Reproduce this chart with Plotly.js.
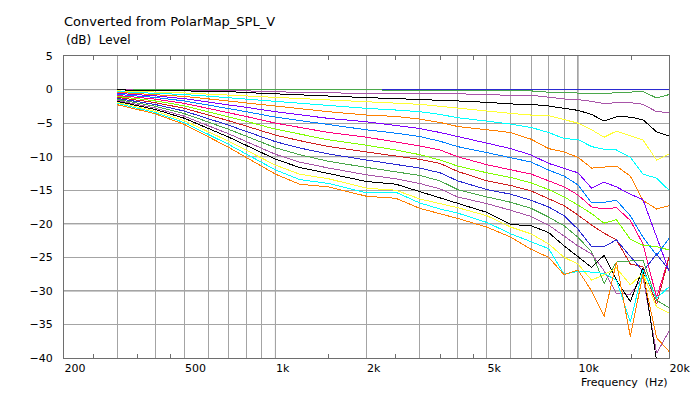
<!DOCTYPE html>
<html><head><meta charset="utf-8">
<script src="https://cdn.plot.ly/plotly-3.0.1.min.js"></script>
<style>html,body{margin:0;padding:0;background:#fff}#chart{width:692px;height:393px}
.scatterlayer path.js-line{shape-rendering:crispEdges}</style>
</head><body><div id="chart"></div>
<script>
// Frequencies (Hz)
const freqHz = [300,400,500,600,700,800,1000,1200,1500,2000,2500,3000,3500,4000,5000,6000,7000,8000,9000,10000,11100,12200,13400,14900,16400,18200,20000];

// Level curves (dB), top (on-axis) to bottom
const L00 = [0,0,0,0,0,0,0,0,0,0,0,0,0,0,0,0,0,0,0,0,0,0,0,0,0,0,0];
const L01 = [0,0,0,0,0,0,0,0,0,-0.05,-0.1,-0.1,-0.1,-0.1,-0.1,-0.1,-0.2,-0.4,-0.45,-0.55,-0.6,-0.65,-0.45,-0.4,-0.3,-1.25,-0.75];
const L02 = [-0.05,-0.07,-0.1,-0.12,-0.15,-0.2,-0.3,-0.45,-0.5,-0.52,-0.55,-0.6,-0.62,-0.65,-0.7,-0.9,-0.85,-1.15,-1.4,-1.5,-1.75,-2.1,-1.95,-1.95,-2.2,-3.3,-3.4];
const L03 = [-0.05,-0.1,-0.15,-0.2,-0.3,-0.45,-0.65,-0.8,-0.95,-1.2,-1.35,-1.45,-1.55,-1.7,-1.9,-2.15,-2.2,-2.45,-2.8,-3.1,-3.7,-4.7,-4.05,-4.1,-4.5,-6.3,-6.9];
const L04 = [-0.2,-0.35,-0.5,-0.68,-0.83,-0.98,-1.2,-1.37,-1.57,-1.8,-2.0,-2.2,-2.5,-2.8,-3.2,-3.55,-3.8,-3.9,-4.5,-5.0,-6.0,-7.1,-6.2,-6.9,-7.5,-10.5,-9.6];
const L05 = [-0.32,-0.51,-0.74,-0.99,-1.22,-1.43,-1.79,-2.05,-2.45,-2.8,-3.05,-3.3,-3.7,-4.2,-4.7,-5.15,-5.65,-6.4,-7.3,-7.45,-8.5,-8.9,-9.0,-10.1,-12.6,-13.2,-15.0];
const L06 = [-0.42,-0.72,-1.03,-1.39,-1.71,-2.01,-2.51,-2.8,-3.3,-3.8,-4.0,-4.4,-4.9,-5.5,-5.95,-6.4,-7.4,-8.8,-9.3,-10.1,-11.7,-11.6,-11.4,-12.9,-16.5,-17.8,-17.3];
const L07 = [-0.57,-0.94,-1.36,-1.83,-2.25,-2.65,-3.3,-3.7,-4.3,-4.8,-5.3,-5.8,-6.4,-7.0,-8.0,-8.8,-9.75,-11.0,-11.75,-12.4,-14.7,-13.8,-14.5,-15.6,-16.4,-22.0,-27.0];
const L08 = [-0.72,-1.17,-1.7,-2.28,-2.8,-3.29,-4.11,-4.6,-5.3,-6.0,-6.5,-7.0,-7.7,-8.5,-9.4,-10.1,-10.8,-12.0,-12.9,-14.2,-16.9,-16.8,-16.5,-18.8,-22.0,-24.7,-22.2];
const L09 = [-0.87,-1.43,-2.06,-2.78,-3.41,-4.01,-5.0,-5.6,-6.4,-7.1,-7.8,-8.4,-9.0,-10.0,-11.2,-12.0,-12.6,-13.6,-14.5,-15.7,-17.5,-17.8,-17.6,-19.5,-23.0,-31.0,-25.0];
const L10 = [-1.02,-1.68,-2.43,-3.28,-4.02,-4.73,-5.9,-6.6,-7.5,-8.3,-9.0,-9.7,-10.5,-11.4,-12.4,-13.1,-13.9,-14.9,-16.0,-17.2,-18.5,-19.9,-19.4,-22.3,-23.2,-23.4,-23.9];
const L11 = [-1.17,-1.94,-2.8,-3.77,-4.64,-5.44,-6.79,-7.6,-8.5,-9.3,-9.9,-10.4,-11.0,-12.2,-13.6,-14.3,-15.1,-16.3,-17.3,-18.7,-20.2,-21.4,-22.4,-26.0,-26.4,-32.0,-25.0];
const L12 = [-1.32,-2.22,-3.21,-4.32,-5.31,-6.23,-7.77,-8.7,-9.6,-10.5,-11.1,-11.7,-12.4,-13.6,-14.9,-15.6,-16.5,-17.5,-18.8,-20.8,-23.4,-23.4,-22.4,-24.9,-27.1,-24.5,-26.9];
const L13 = [-1.47,-2.48,-3.58,-4.82,-5.92,-6.95,-8.67,-9.7,-10.7,-11.6,-12.2,-12.8,-13.6,-14.9,-16.0,-16.8,-17.7,-19.0,-20.3,-22.0,-24.2,-28.9,-25.7,-25.6,-25.4,-31.4,-32.5];
const L14 = [-1.62,-2.76,-3.98,-5.36,-6.59,-7.74,-9.65,-10.8,-11.7,-12.7,-13.3,-14.0,-14.8,-16.0,-17.0,-18.0,-18.9,-20.2,-21.8,-23.3,-24.5,-27.0,-30.4,-30.5,-27.9,-39.3,-36.0];
const L15 = [-1.76,-2.96,-4.28,-5.76,-7.08,-8.31,-10.37,-11.6,-12.5,-13.7,-14.1,-15.2,-16.2,-16.9,-18.3,-20.1,-20.3,-21.3,-23.3,-24.9,-26.5,-24.7,-28.4,-31.6,-26.6,-40.5,-45.0];
const L16 = [-1.91,-3.22,-4.65,-6.26,-7.69,-9.03,-11.26,-12.6,-13.3,-14.7,-15.0,-16.3,-17.0,-17.6,-18.8,-20.5,-21.5,-23.0,-25.0,-26.0,-28.4,-27.6,-26.6,-29.1,-27.4,-32.4,-33.3];
const L17 = [-2.06,-3.42,-4.94,-6.65,-8.17,-9.6,-11.97,-13.4,-14.0,-15.4,-15.3,-16.9,-17.8,-18.4,-19.8,-21.5,-22.7,-23.7,-27.5,-27.1,-27.2,-27.4,-28.4,-34.6,-26.9,-31.1,-29.4];
const L18 = [-2.26,-3.6,-5.2,-7.0,-8.6,-10.1,-12.6,-14.1,-14.5,-15.9,-16.2,-17.7,-18.5,-19.2,-20.5,-22.0,-23.8,-25.0,-27.6,-26.9,-30.0,-33.8,-25.7,-36.8,-27.5,-37.0,-39.0];

const curves = [L00,L01,L02,L03,L04,L05,L06,L07,L08,L09,L10,L11,L12,L13,L14,L15,L16,L17,L18];
const curveColors = ['#2a2ad2','#4aa84a','#a855a8','#000000','#ffff33','#00ffff','#ff8000','#8000ff','#0080ff','#ff0080','#80ff00','#d02020',
                     '#2a2ad2','#4aa84a','#a855a8','#000000','#ffff33','#00ffff','#ff8000'];

// Axis ticks
const xTickVals = [200,300,400,500,600,700,800,900,1000,2000,3000,4000,5000,6000,7000,8000,9000,10000,20000];
const xTickText = ['200','','','500','','','','','1k','2k','','','5k','','','','','10k','20k'];
const xMinorTicks = [250,350,450,1500,2500,3500,4500,15000];
const yTickVals = [5,0,-5,-10,-15,-20,-25,-30,-35,-40];
const darkGridX = [1000,10000];
const darkGridY = [0,-10,-20,-30];

const traces = curves.map((c,i)=>({
  type:'scatter', mode:'lines', x:freqHz, y:c,
  line:{color:curveColors[i], width:1},
  hoverinfo:'skip', showlegend:false
}));

const gridDark = '#6e6e6e', gridLight = '#a4a4a4';
const shapes = [];
darkGridX.forEach(v=>shapes.push({type:'line', xref:'x', yref:'paper', x0:v, x1:v, y0:0, y1:1, layer:'between', line:{color:gridDark, width:1}}));
darkGridY.forEach(v=>shapes.push({type:'line', xref:'paper', yref:'y', x0:0, x1:1, y0:v, y1:v, layer:'between', line:{color:gridDark, width:1}}));

const layout = {
  width:692, height:393,
  margin:{l:64, r:23, t:56, b:35},
  paper_bgcolor:'#ffffff', plot_bgcolor:'#ffffff',
  showlegend:false,
  font:{family:'DejaVu Sans, Verdana, sans-serif', size:11, color:'#000'},
  title:{text:'Converted from PolarMap_SPL_V', xref:'container', x:64/692, xanchor:'left',
         yref:'container', y:1-21/393, yanchor:'middle', font:{size:13, color:'#000'}},
  xaxis:{type:'log', range:[Math.log10(200), Math.log10(20000)], tickmode:'array',
         tickvals:xTickVals, ticktext:xTickText, ticks:'', showgrid:true, gridcolor:gridLight, gridwidth:1,
         showline:true, linecolor:gridDark, linewidth:1, mirror:'ticks', zeroline:false,
         ticklabelposition:'outside right', tickfont:{size:11, color:'#000'},
         minor:{tickmode:'array', tickvals:xMinorTicks, ticks:'inside', ticklen:4, tickcolor:gridDark, tickwidth:1, showgrid:false},
         fixedrange:true},
  yaxis:{range:[-40,5], tickmode:'array', tickvals:yTickVals, ticks:'', showgrid:true, gridcolor:gridLight, gridwidth:1,
         showline:true, linecolor:gridDark, linewidth:1, mirror:true, zeroline:false,
         ticklabelstandoff:8, tickfont:{size:11, color:'#000'}, fixedrange:true},
  shapes:shapes,
  annotations:[
    {text:'(dB)\u00a0\u00a0Level', xref:'paper', yref:'paper', x:0, y:(358-40)/302, xanchor:'left', yanchor:'middle',
     showarrow:false, font:{size:12, color:'#000'}},
    {text:'Frequency\u00a0\u00a0(Hz)', xref:'paper', yref:'paper', x:1, y:(358-382)/302, xanchor:'right', yanchor:'middle',
     showarrow:false, font:{size:11, color:'#000'}}
  ]
};

Plotly.newPlot('chart', traces, layout, {displayModeBar:false, staticPlot:true});
</script>
</body></html>
